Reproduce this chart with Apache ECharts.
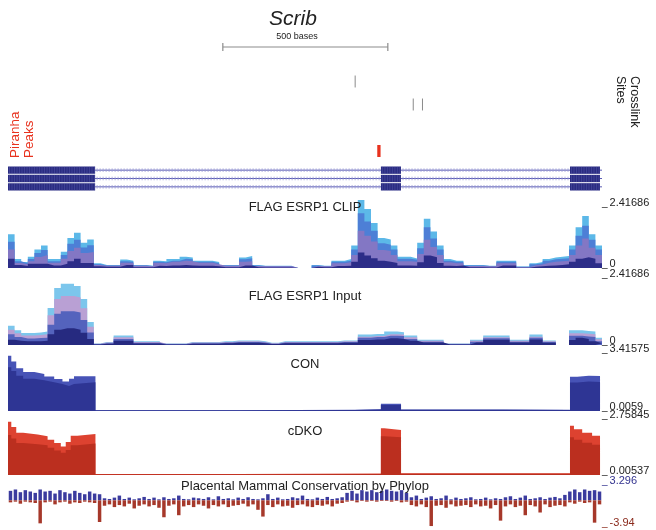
<!DOCTYPE html>
<html><head><meta charset="utf-8">
<script src="https://cdn.jsdelivr.net/npm/echarts@6/dist/echarts.min.js"></script>
<style>html,body{margin:0;padding:0;background:#fff}#c{width:656px;height:530px}</style>
</head><body><div id="c"></div>
<script>
// ---------------- data ----------------
const GENE_NAME = 'Scrib';
const REGION_BASES = 1800;
const SCALE_BAR_LABEL = '500 bases';
const scaleBar = [[651, 1151]];
const crosslinkSites = [[1052, 0], [1228, 1], [1256, 1]];
const piranhaPeaks = [[1119, 1129]];
const transcripts = [0, 1, 2];
const exons = [[0, 264], [1130, 1191], [1703, 1794]];
const introns = [[264, 1130], [1191, 1703], [1794, 1800]];

const BIN = 20;
const clipL1 = [1.2,0.32,0.21,0.4,0.66,0.8,0.32,0.32,0.58,1.07,1.25,0.9,1.01,0.17,0.11,0.11,0.11,0.3,0.26,0.11,0.11,0.08,0.26,0.24,0.32,0.32,0.4,0.37,0.26,0.26,0.26,0.21,0.11,0.11,0.11,0.37,0.43,0.11,0.08,0.08,0.08,0.08,0.08,0,0,0,0.11,0.08,0.08,0.26,0.26,0.32,0.8,2.42,2.1,1.6,1.07,1.01,0.8,0.4,0.4,0.34,0.9,1.75,1.3,0.8,0.32,0.26,0.26,0.11,0.11,0.11,0.08,0.08,0.26,0.26,0.26,0.05,0.05,0.17,0.21,0.32,0.37,0.4,0.43,0.8,1.45,1.85,1.2,0.8];
const clipL2 = [0.93,0.24,0.17,0.32,0.53,0.64,0.24,0.24,0.46,0.86,1.0,0.73,0.81,0.13,0.09,0.09,0.09,0.24,0.22,0.09,0.09,0.07,0.22,0.2,0.26,0.26,0.33,0.31,0.22,0.22,0.22,0.17,0.09,0.09,0.09,0.31,0.35,0.09,0.07,0.07,0.07,0.07,0.07,0,0,0,0.09,0.07,0.07,0.22,0.22,0.26,0.66,1.95,1.65,1.32,0.88,0.83,0.66,0.33,0.33,0.29,0.7,1.45,1.05,0.66,0.26,0.22,0.22,0.09,0.09,0.09,0.07,0.07,0.22,0.22,0.22,0.04,0.04,0.13,0.17,0.26,0.31,0.33,0.35,0.66,1.15,1.5,1.0,0.66];
const clipL3 = [0.66,0.18,0.13,0.24,0.39,0.46,0.19,0.19,0.33,0.6,0.72,0.53,0.57,0.11,0.08,0.08,0.08,0.19,0.18,0.08,0.08,0.06,0.18,0.17,0.22,0.22,0.26,0.24,0.19,0.19,0.19,0.13,0.08,0.08,0.08,0.22,0.24,0.07,0.06,0.06,0.06,0.06,0.06,0,0,0,0.07,0.06,0.06,0.17,0.17,0.2,0.46,1.32,1.15,0.94,0.64,0.6,0.46,0.24,0.24,0.22,0.5,1.0,0.75,0.46,0.2,0.17,0.17,0.07,0.07,0.07,0.06,0.06,0.17,0.17,0.17,0.03,0.03,0.1,0.12,0.19,0.22,0.24,0.26,0.46,0.8,1.05,0.72,0.46];
const clipL4 = [0.33,0.11,0.07,0.15,0.15,0.15,0.09,0.09,0.15,0.24,0.33,0.18,0.18,0.06,0.04,0.04,0.04,0.11,0.11,0.03,0.03,0.03,0.08,0.07,0.09,0.09,0.11,0.09,0.08,0.08,0.08,0.06,0.03,0.03,0.03,0.09,0.09,0.03,0.02,0.02,0.02,0.02,0.02,0,0,0,0.04,0.03,0.03,0.07,0.07,0.08,0.22,0.55,0.44,0.35,0.26,0.22,0.18,0.09,0.09,0.08,0.2,0.44,0.38,0.18,0.08,0.07,0.09,0.03,0.03,0.03,0.02,0.02,0.09,0.09,0.09,0.01,0.01,0.04,0.06,0.08,0.09,0.11,0.13,0.22,0.33,0.38,0.33,0.17];

const inputL1 = [0.63,0.48,0.39,0.39,0.41,0.44,1.21,1.86,2.0,2.0,1.93,1.5,0.75,0.05,0.1,0.1,0.31,0.31,0.31,0.12,0.12,0.12,0.12,0.05,0.05,0.05,0.05,0.1,0.1,0.1,0.1,0.1,0.12,0.12,0.15,0.15,0.15,0.15,0.12,0.07,0.07,0.12,0.12,0.12,0.12,0.12,0.12,0.12,0.12,0.12,0.15,0.15,0.15,0.34,0.34,0.36,0.36,0.44,0.44,0.42,0.31,0.31,0.17,0.17,0.17,0.17,0.05,0.05,0.05,0.05,0.17,0.17,0.31,0.31,0.31,0.31,0.17,0.17,0.17,0.34,0.34,0.15,0.15,0,0,0.48,0.48,0.46,0.44,0.24];
const inputL2 = [0.5,0.38,0.31,0.31,0.33,0.35,0.97,1.5,1.6,1.6,1.55,1.2,0.6,0.04,0.08,0.08,0.25,0.25,0.25,0.1,0.1,0.1,0.1,0.04,0.04,0.04,0.04,0.08,0.08,0.08,0.08,0.08,0.1,0.1,0.12,0.12,0.12,0.12,0.1,0.06,0.06,0.1,0.1,0.1,0.1,0.1,0.1,0.1,0.1,0.1,0.12,0.12,0.12,0.27,0.27,0.29,0.29,0.35,0.35,0.34,0.25,0.25,0.14,0.14,0.14,0.14,0.04,0.04,0.04,0.04,0.14,0.14,0.25,0.25,0.25,0.25,0.14,0.14,0.14,0.27,0.27,0.12,0.12,0,0,0.38,0.38,0.37,0.35,0.19];
const inputL3 = [0.35,0.26,0.21,0.21,0.23,0.24,0.66,1.02,1.1,1.1,1.06,0.82,0.41,0.03,0.06,0.06,0.2,0.2,0.2,0.07,0.07,0.07,0.07,0.03,0.03,0.03,0.03,0.06,0.06,0.06,0.06,0.06,0.08,0.08,0.1,0.1,0.1,0.1,0.08,0.04,0.04,0.08,0.08,0.08,0.08,0.08,0.08,0.08,0.08,0.08,0.1,0.1,0.1,0.24,0.24,0.26,0.26,0.3,0.3,0.29,0.2,0.2,0.11,0.11,0.11,0.11,0.03,0.03,0.03,0.03,0.11,0.11,0.22,0.22,0.22,0.22,0.11,0.11,0.11,0.24,0.24,0.1,0.1,0,0,0.3,0.3,0.28,0.26,0.12];
const inputL4 = [0.17,0.14,0.12,0.12,0.12,0.14,0.35,0.5,0.55,0.55,0.5,0.4,0.2,0.02,0.04,0.04,0.14,0.14,0.14,0.05,0.05,0.05,0.05,0.02,0.02,0.02,0.02,0.04,0.04,0.04,0.04,0.04,0.06,0.06,0.07,0.07,0.07,0.07,0.06,0.03,0.03,0.06,0.06,0.06,0.06,0.06,0.06,0.06,0.06,0.06,0.07,0.07,0.07,0.16,0.16,0.18,0.18,0.22,0.22,0.2,0.14,0.14,0.08,0.08,0.08,0.08,0.02,0.02,0.02,0.02,0.08,0.08,0.17,0.17,0.17,0.17,0.08,0.08,0.08,0.18,0.18,0.07,0.07,0,0,0.16,0.24,0.2,0.12,0.06];

// bedGraph-like segments [start, end, value]
const conUpper = [[0,10,2.9],[10,25,2.6],[25,46,2.25],[46,80,2.05],[80,110,1.95],[110,140,1.82],[140,165,1.68],[165,185,1.56],[185,200,1.7],[200,265,1.83],[265,700,0.05],[700,1050,0.07],[1050,1130,0.1],[1130,1191,0.38],[1191,1500,0.08],[1500,1703,0.07],[1703,1725,1.8],[1725,1760,1.86],[1760,1794,1.84]];
const conLower = [[0,10,2.3],[10,25,2.1],[25,46,1.85],[46,80,1.7],[80,110,1.62],[110,140,1.52],[140,165,1.42],[165,185,1.32],[185,200,1.42],[200,265,1.52],[265,700,0.04],[700,1050,0.06],[1050,1130,0.08],[1130,1191,0.32],[1191,1500,0.07],[1500,1703,0.06],[1703,1725,1.5],[1725,1760,1.55],[1760,1794,1.53]];
const cdkoUpper = [[0,10,2.33],[10,25,2.1],[25,46,1.85],[46,90,1.78],[90,120,1.7],[120,140,1.55],[140,160,1.4],[160,175,1.25],[175,190,1.45],[190,210,1.72],[210,265,1.8],[265,700,0.05],[700,1130,0.07],[1130,1140,2.05],[1140,1191,1.97],[1191,1703,0.08],[1703,1715,2.16],[1715,1740,2.0],[1740,1770,1.85],[1770,1794,1.72]];
const cdkoLower = [[0,10,1.75],[10,25,1.6],[25,46,1.4],[46,90,1.35],[90,120,1.3],[120,140,1.2],[140,160,1.08],[160,175,0.98],[175,190,1.1],[190,210,1.3],[210,265,1.38],[265,700,0.04],[700,1130,0.05],[1130,1140,1.7],[1140,1191,1.65],[1191,1703,0.06],[1703,1715,1.65],[1715,1740,1.55],[1740,1770,1.42],[1770,1794,1.33]];

const PHY_BIN = 15;
const phyPos = [1.4,1.6,1.2,1.5,1.3,1.1,1.6,1.3,1.4,1.0,1.5,1.2,1.0,1.4,1.1,0.9,1.3,1.0,
  0.9,0.3,0.2,0.4,0.7,0.2,0.4,0.15,0.3,0.5,0.2,0.4,0.15,0.45,0.2,0.3,0.7,0.2,0.15,0.4,0.3,0.2,0.45,0.15,0.6,0.2,0.3,0.15,0.4,0.2,0.45,0.2,0.15,0.3,0.9,0.2,0.4,0.15,0.2,0.45,0.3,0.7,0.2,0.15,0.4,0.2,0.5,0.2,0.3,0.45,
  1.1,1.4,1.0,1.5,1.3,1.5,1.2,1.4,1.6,1.4,1.3,1.5,1.1,
  0.45,0.7,0.2,0.4,0.6,0.2,0.3,0.7,0.15,0.4,0.2,0.3,0.45,0.15,0.2,0.4,0.15,0.3,0.2,0.45,0.6,0.2,0.4,0.7,0.2,0.3,0.45,0.2,0.4,0.5,0.3,0.8,
  1.3,1.6,1.2,1.6,1.4,1.5,1.3];
const phyNeg = [-0.3,-0.2,-0.5,-0.2,-0.3,-0.4,-3.4,-0.3,-0.2,-0.6,-0.3,-0.2,-0.5,-0.3,-0.4,-0.2,-0.3,-0.4,
  -3.2,-0.8,-0.6,-1.0,-0.7,-0.9,-0.5,-1.2,-0.8,-0.6,-0.9,-0.7,-1.1,-2.5,-0.8,-0.6,-2.2,-0.9,-0.7,-1.0,-0.6,-0.8,-1.2,-0.7,-0.9,-0.6,-1.0,-0.8,-0.7,-0.5,-0.9,-0.6,-1.4,-2.4,-0.7,-1.0,-0.6,-0.9,-0.8,-1.1,-0.7,-0.6,-0.9,-1.0,-0.7,-0.8,-0.6,-0.9,-0.5,-0.4,
  -0.2,-0.1,-0.3,-0.1,-0.2,-0.1,-0.2,-0.1,-0.1,-0.2,-0.1,-0.3,-0.2,
  -0.7,-0.9,-0.6,-1.0,-3.8,-0.8,-0.7,-1.1,-0.6,-0.9,-0.8,-0.7,-1.0,-0.6,-0.9,-0.8,-1.2,-0.7,-3.0,-0.9,-0.6,-1.0,-0.8,-2.2,-0.7,-0.9,-1.8,-0.6,-1.0,-0.8,-0.7,-0.9,
  -0.3,-0.5,-0.2,-0.4,-0.3,-3.3,-0.6];

const trackTitles = ['FLAG ESRP1 CLIP', 'FLAG ESRP1 Input', 'CON', 'cDKO', 'Placental Mammal Conservation by Phylop'];
const trackRanges = [[0, 2.41686], [0, 2.41686], [0.0059, 3.41575], [0.00537, 2.75845], [-3.94, 3.296]];
const trackTickLabels = [['0', '2.41686'], ['0', '2.41686'], ['0.0059', '3.41575'], ['0.00537', '2.75845'], ['-3.94', '3.296']];

// ---------------- layout & style ----------------
const L = 8, W = 594;
const trackBoxes = [[200, 68], [271, 74], [346, 65], [412, 63], [478, 49]];
const titleCenters = [208, 297, 365, 432, 487];
const FONT = '"Liberation Sans", Arial, sans-serif';
const labelColors = [['#222', '#222'], ['#222', '#222'], ['#222', '#222'], ['#222', '#222'], ['#8a2a1c', '#33338f']];

const chart = echarts.init(document.getElementById('c'), null, {renderer: 'canvas'});

function binsToLine(arr, bin) {
  const pts = arr.map((v, i) => [i * bin, v]);
  pts.push([arr.length * bin, arr[arr.length - 1]]);
  return pts;
}
function segsToLine(segs) {
  const pts = segs.map(s => [s[0], s[2]]);
  const last = segs[segs.length - 1];
  pts.push([last[1], last[2]]);
  return pts;
}
function areaSeries(grid, data, color) {
  return {type: 'line', xAxisIndex: grid, yAxisIndex: grid, data, step: 'end', symbol: 'none',
    lineStyle: {width: 0, color}, areaStyle: {color, opacity: 1, origin: 'start'}, itemStyle: {color},
    silent: true, clip: true};
}

const grids = [
  {top: 42, height: 10}, {top: 70, height: 46}, {top: 145, height: 12}, {top: 166, height: 25},
  ...trackBoxes.map(b => ({top: b[0], height: b[1]}))
].map(g => Object.assign({left: L, width: W, containLabel: false}, g));

const xAxes = grids.map((g, i) => ({gridIndex: i, type: 'value', min: 0, max: REGION_BASES, show: false}));
const yAxes = [
  {gridIndex: 0, type: 'value', min: 0, max: 1, show: false},
  {gridIndex: 1, type: 'value', min: -0.5, max: 1.5, inverse: true, show: false},
  {gridIndex: 2, type: 'value', min: 0, max: 1, show: false},
  {gridIndex: 3, type: 'value', min: -0.5, max: 2.5, inverse: true, show: false},
  ...trackRanges.map((r, k) => ({
    gridIndex: 4 + k, type: 'value', min: r[0], max: r[1], position: 'right',
    axisLine: {show: false, onZero: false}, splitLine: {show: false},
    axisTick: {show: false},
    axisLabel: {
      customValues: [r[0], r[1]], margin: 0, fontFamily: FONT,
      formatter: v => Math.abs(v - r[0]) < 1e-9
        ? '{ulo|_}{lo|' + trackTickLabels[k][0] + '}'
        : '{uhi|_}{hi|' + trackTickLabels[k][1] + '}',
      rich: {
        ulo: {fontSize: 10, fontFamily: FONT, color: labelColors[k][0], padding: [0, 2, 8, 0]},
        uhi: {fontSize: 10, fontFamily: FONT, color: labelColors[k][1], padding: [6, 2, 0, 0]},
        lo: {fontSize: 11, fontFamily: FONT, color: labelColors[k][0], padding: [0, 0, 8, 0]},
        hi: {fontSize: 11, fontFamily: FONT, color: labelColors[k][1], padding: [6, 0, 0, 0]}
      }
    }
  }))
];

const series = [];
// scale bar
series.push({type: 'custom', xAxisIndex: 0, yAxisIndex: 0, data: scaleBar, silent: true,
  renderItem: (p, api) => {
    const a = api.coord([api.value(0), 0.5]), b = api.coord([api.value(1), 0.5]);
    const st = {stroke: '#8c8c8c', lineWidth: 1.2};
    return {type: 'group', children: [
      {type: 'line', shape: {x1: a[0], y1: a[1], x2: b[0], y2: b[1]}, style: st},
      {type: 'line', shape: {x1: a[0], y1: a[1] - 4, x2: a[0], y2: a[1] + 4}, style: st},
      {type: 'line', shape: {x1: b[0], y1: b[1] - 4, x2: b[0], y2: b[1] + 4}, style: st}
    ]};
  }});
// crosslink sites
series.push({type: 'custom', xAxisIndex: 1, yAxisIndex: 1, data: crosslinkSites, silent: true,
  renderItem: (p, api) => {
    const c = api.coord([api.value(0), api.value(1)]);
    const h = api.size([0, 1])[1] * 0.52;
    return {type: 'line', shape: {x1: c[0], y1: c[1] - h / 2, x2: c[0], y2: c[1] + h / 2}, style: {stroke: '#8a8a8a', lineWidth: 1}};
  }});
// piranha peaks
series.push({type: 'custom', xAxisIndex: 2, yAxisIndex: 2, data: piranhaPeaks, silent: true,
  renderItem: (p, api) => {
    const a = api.coord([api.value(0), 1]), b = api.coord([api.value(1), 0]);
    return {type: 'rect', shape: {x: a[0], y: a[1], width: b[0] - a[0], height: b[1] - a[1]}, style: {fill: '#e8321e'}};
  }});
// gene model
const geneData = [];
transcripts.forEach(t => {
  introns.forEach(s => geneData.push([t, s[0], s[1], 0]));
  exons.forEach(s => geneData.push([t, s[0], s[1], 1]));
});
series.push({type: 'custom', xAxisIndex: 3, yAxisIndex: 3, data: geneData, silent: true,
  encode: {x: [1, 2], y: 0},
  renderItem: (p, api) => {
    const t = api.value(0), s = api.value(1), e = api.value(2), kind = api.value(3);
    const a = api.coord([s, t]), b = api.coord([e, t]);
    const band = api.size([0, 1])[1];
    if (kind === 1) {
      const h = band - 1;
      const children = [{type: 'rect', shape: {x: a[0], y: a[1] - h / 2, width: b[0] - a[0], height: h}, style: {fill: '#2a2c82'}}];
      for (let x = a[0] + 1.5; x < b[0] - 0.5; x += 2.5) {
        children.push({type: 'line', shape: {x1: x, y1: a[1] - h / 2, x2: x, y2: a[1] + h / 2}, style: {stroke: 'rgba(120,125,200,0.35)', lineWidth: 0.8}});
      }
      return {type: 'group', children};
    }
    const children = [{type: 'line', shape: {x1: a[0], y1: a[1], x2: b[0], y2: b[1]}, style: {stroke: '#5a5cb4', lineWidth: 1}}];
    for (let x = a[0] + 2; x < b[0] - 1; x += 3) {
      children.push({type: 'line', shape: {x1: x, y1: a[1] - 1.8, x2: x, y2: a[1] + 1.8}, style: {stroke: '#9a9ad6', lineWidth: 0.8}});
    }
    return {type: 'group', children};
  }});

// coverage tracks
[[clipL1, '#5cb8e8'], [clipL2, '#4d7fd6'], [clipL3, '#8377c4'], [clipL4, '#2c2d88']].forEach(([arr, c]) => series.push(areaSeries(4, binsToLine(arr, BIN), c)));
[[inputL1, '#7cc6ec'], [inputL2, '#b9a0d4'], [inputL3, '#5463bd'], [inputL4, '#262a80']].forEach(([arr, c]) => series.push(areaSeries(5, binsToLine(arr, BIN), c)));
[[conUpper, '#4753b6'], [conLower, '#2e3594']].forEach(([segs, c]) => series.push(areaSeries(6, segsToLine(segs), c)));
[[cdkoUpper, '#dd4230'], [cdkoLower, '#bb2f1f']].forEach(([segs, c]) => series.push(areaSeries(7, segsToLine(segs), c)));

// phylop
function phyBars(arr, color) {
  return {type: 'custom', xAxisIndex: 8, yAxisIndex: 8, silent: true,
    data: arr.map((v, i) => [i * PHY_BIN, (i + 1) * PHY_BIN, v]),
    encode: {x: [0, 1], y: 2},
    renderItem: (p, api) => {
      const s = api.value(0), e = api.value(1), v = api.value(2);
      const a = api.coord([s, v]), b = api.coord([e, 0]);
      const w = (b[0] - a[0]);
      return {type: 'rect', shape: {x: a[0] + w * 0.15, y: Math.min(a[1], b[1]), width: w * 0.7, height: Math.abs(b[1] - a[1])}, style: {fill: color}};
    }};
}
series.push(phyBars(phyPos, '#3b3b9e'));
series.push(phyBars(phyNeg, '#a6382a'));

const titles = [
  {text: GENE_NAME, left: 293, top: 9, textAlign: 'center', padding: 0,
    textStyle: {fontFamily: FONT, fontStyle: 'italic', fontWeight: 'normal', fontSize: 21, color: '#222'}},
  {text: SCALE_BAR_LABEL, left: 297, top: 32, textAlign: 'center', padding: 0,
    textStyle: {fontFamily: FONT, fontWeight: 'normal', fontSize: 9, color: '#222'}},
  ...trackTitles.map((t, k) => ({text: t, left: 305, top: titleCenters[k] - 7, textAlign: 'center', padding: 0,
    textStyle: {fontFamily: FONT, fontWeight: 'normal', fontSize: 13, color: '#222'}}))
];

const graphic = [
  {type: 'text', x: 641, y: 76, rotation: -Math.PI / 2, silent: true,
    style: {text: 'Crosslink\nSites', fontFamily: FONT, fontSize: 12.5, lineHeight: 14, fill: '#222', align: 'left', verticalAlign: 'top'}},
  {type: 'text', x: 8, y: 158, rotation: Math.PI / 2, silent: true,
    style: {text: 'Piranha\nPeaks', fontFamily: FONT, fontSize: 13.5, lineHeight: 14, fill: '#e8321e', align: 'left', verticalAlign: 'top'}}
];

chart.setOption({
  animation: false, backgroundColor: '#fff',
  title: titles, grid: grids, xAxis: xAxes, yAxis: yAxes, series, graphic
});
</script></body></html>
